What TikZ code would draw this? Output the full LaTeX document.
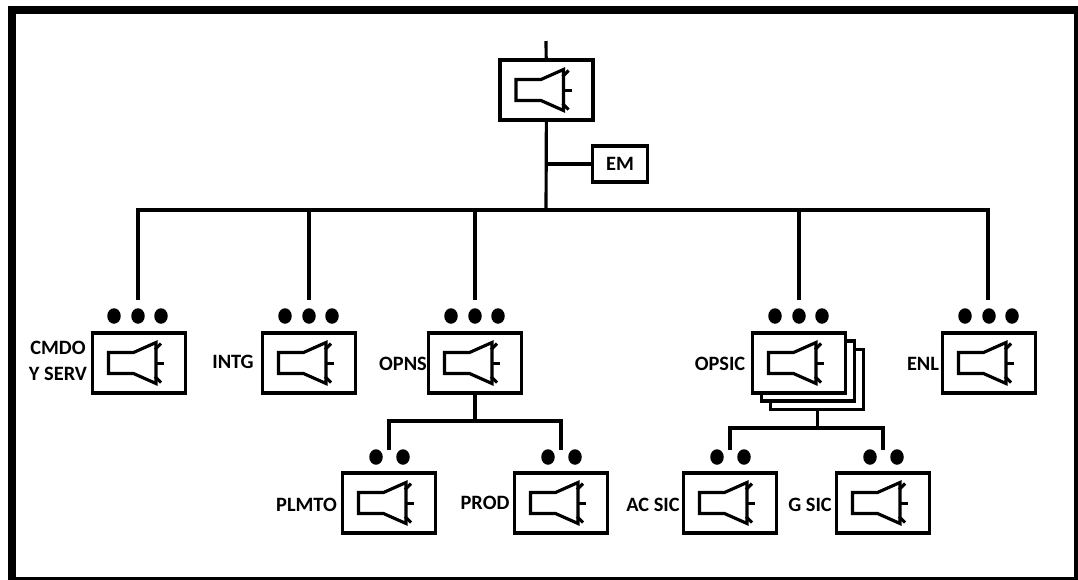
\documentclass[tikz,border=0pt]{standalone}
\usepackage{fontspec}
\setmainfont{Carlito}
\tikzset{
  unitbox/.style={draw, line width=1.8pt, fill=white, minimum width=1.86cm, minimum height=1.2cm},
  dotmark/.style={fill=black, ellipse, inner sep=0pt, minimum width=0.27cm, minimum height=0.31cm},
  unitlabel/.style={font=\bfseries\fontsize{11.6}{14.6}\selectfont, align=center, inner sep=0pt},
  wire/.style={line width=1.8pt},
  horn/.pic={
    \draw [line width=1.8pt, miter limit=4] (-30.5,-10.5) -- (-5.5,-10.5) -- (17,-20.5) -- (17,20.5) -- (-5.5,10.5) -- (-30.5,10.5) -- cycle;
    \draw [line width=1.8pt] (16,-13.5) -- (22,-19.5);
    \draw [line width=1.8pt] (16,13.5) -- (22,19.5);
    \draw [line width=1.8pt] (17,0.5) -- (25,0.5);
  }
}
\usetikzlibrary{shapes.geometric}
\begin{document}
\begin{tikzpicture}[x=0.02cm, y=-0.02cm]
  \useasboundingbox (0,0) rectangle (1078,579);
  \node [draw, line width=4.6pt, minimum width=21.33cm, minimum height=11.42cm] (frame) at (545,295.5) {};
  \coordinate (topin) at (546,41);
  \coordinate (busT) at (546,210);
  \coordinate (tapEM) at (546,164);
  \coordinate (busL) at (138,210);
  \coordinate (busR) at (988,210);
  \node [unitbox] (HQ) at (546.5,90) {};
  \node [unitbox, minimum width=1.1cm, minimum height=0.72cm, font=\bfseries\fontsize{11.6}{14}\selectfont] (EM) at (620,164) {EM};
  \node [unitbox] (CMDO) at (139,363) {};
  \node [unitbox] (INTG) at (309,363) {};
  \node [unitbox] (OPNS) at (475,363) {};
  \node [unitbox] (OPSICc) at (817,379.5) {};
  \node [unitbox] (OPSICb) at (808,371) {};
  \node [unitbox] (OPSIC) at (799,363) {};
  \node [unitbox] (ENL) at (989,363) {};
  \node [unitbox] (PLMTO) at (389,503) {};
  \node [unitbox] (PROD) at (561,503) {};
  \node [unitbox] (ACSIC) at (730,503) {};
  \node [unitbox] (GSIC) at (883,503) {};
  \foreach \u in {HQ,CMDO,INTG,OPNS,OPSIC,ENL,PLMTO,PROD,ACSIC,GSIC}
    \pic at (\u) {horn};
  \node [unitlabel] (lCMDO) at (58,361) {CMDO\\Y SERV};
  \node [unitlabel] (lINTG) at (233,362) {INTG};
  \node [unitlabel] (lOPNS) at (403,364) {OPNS};
  \node [unitlabel] (lOPSIC) at (720,364) {OPSIC};
  \node [unitlabel] (lENL) at (923,364) {ENL};
  \node [unitlabel] (lPLMTO) at (306.5,505) {PLMTO};
  \node [unitlabel] (lPROD) at (485,503) {PROD};
  \node [unitlabel] (lACSIC) at (653,505) {AC SIC};
  \node [unitlabel] (lGSIC) at (810,505) {G SIC};
  \foreach \x in {-24,0,23} {
    \node [dotmark] at (138+\x,316) {};
    \node [dotmark] at (309+\x,316) {};
    \node [dotmark] at (475+\x,316) {};
    \node [dotmark] at (799+\x,316) {};
    \node [dotmark] at (989+\x,316) {};
  }
  \foreach \x in {-13,14} {
    \node [dotmark] at (389+\x,457) {};
    \node [dotmark] at (561+\x,457) {};
    \node [dotmark] at (730+\x,457) {};
    \node [dotmark] at (883+\x,457) {};
  }
  \draw [wire] (topin) -- (HQ);
  \draw [wire] (HQ) -- (busT);
  \draw [wire] (tapEM) -- (EM);
  \draw [wire, line cap=rect] (busL) -- (busR);
  \coordinate (dCMDO) at (138,300);
  \coordinate (dINTG) at (309,300);
  \coordinate (dOPNS) at (475,300);
  \coordinate (dOPSIC) at (799,300);
  \coordinate (dENL) at (988,300);
  \draw [wire] (138,210) -- (dCMDO);
  \draw [wire] (309,210) -- (dINTG);
  \draw [wire] (475,210) -- (dOPNS);
  \draw [wire] (799,210) -- (dOPSIC);
  \draw [wire] (988,210) -- (dENL);
  \coordinate (sPLMTO) at (389,450);
  \coordinate (sPROD) at (561,450);
  \coordinate (sACSIC) at (730,450);
  \coordinate (sGSIC) at (883,450);
  \coordinate (jOPNS) at (475,421);
  \coordinate (jOPSIC) at (817.5,428);
  \draw [wire] (OPNS) -- (jOPNS);
  \draw [wire] (sPLMTO) |- (jOPNS) -| (sPROD);
  \draw [wire] (OPSICc.south -| jOPSIC) -- (jOPSIC);
  \draw [wire] (sACSIC) |- (jOPSIC) -| (sGSIC);
\end{tikzpicture}
\end{document}
